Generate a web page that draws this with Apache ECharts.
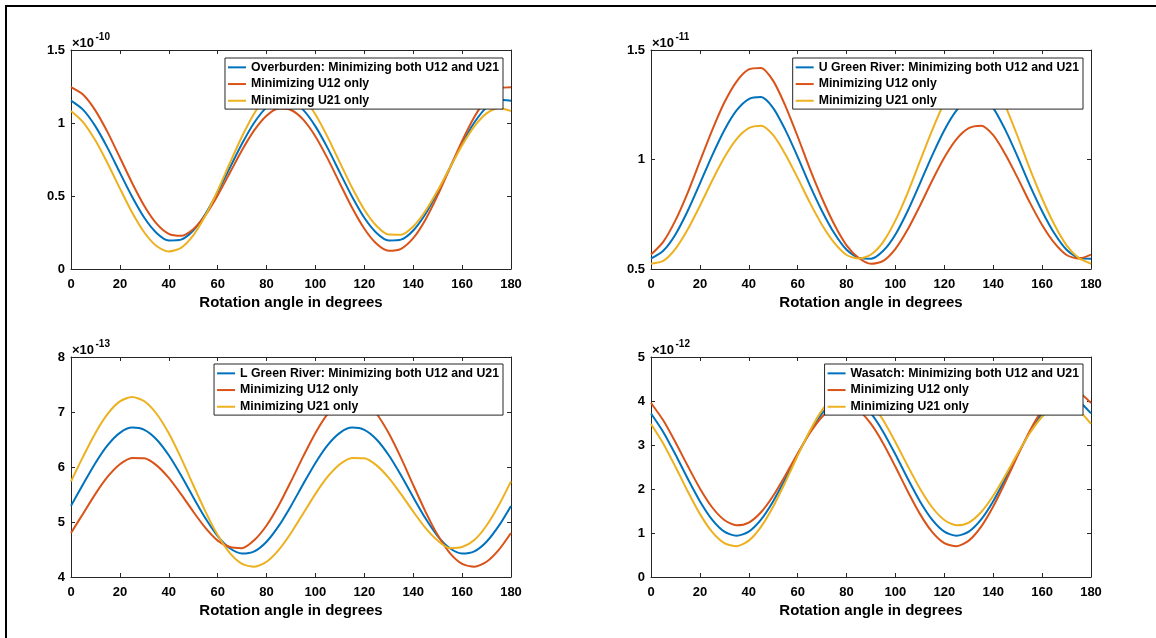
<!DOCTYPE html>
<html>
<head>
<meta charset="utf-8">
<script src="https://cdn.jsdelivr.net/npm/echarts@6/dist/echarts.min.js"></script>
<style>
html,body{margin:0;padding:0;background:#fff;}
#chart{width:1156px;height:638px;}
</style>
</head>
<body>
<div id="chart"></div>
<script>
// Rotation angles (degrees)
const angles = [0,5,10,15,20,25,30,35,40,45,50,55,60,65,70,75,80,85,90,95,100,105,110,115,120,125,130,135,140,145,150,155,160,165,170,175,180];

// Panel 1: Overburden (x1e-10)
const overburdenBoth = [1.153,1.090,0.977,0.828,0.660,0.495,0.351,0.247,0.195,0.201,0.264,0.377,0.527,0.694,0.859,1.003,1.107,1.159,1.153,1.090,0.977,0.828,0.660,0.495,0.351,0.247,0.195,0.201,0.264,0.377,0.527,0.694,0.859,1.003,1.107,1.159,1.153];
const overburdenU12 = [1.245,1.193,1.085,0.936,0.764,0.589,0.432,0.311,0.241,0.228,0.273,0.369,0.504,0.659,0.815,0.951,1.050,1.099,1.089,1.023,0.908,0.756,0.586,0.419,0.276,0.173,0.125,0.138,0.211,0.338,0.504,0.691,0.877,1.041,1.166,1.236,1.245];
const overburdenU21 = [1.082,1.005,0.880,0.723,0.552,0.387,0.250,0.157,0.120,0.145,0.230,0.366,0.537,0.726,0.909,1.067,1.182,1.241,1.238,1.174,1.058,0.903,0.729,0.556,0.406,0.295,0.236,0.235,0.291,0.397,0.537,0.694,0.848,0.977,1.066,1.103,1.082];

// Panel 2: U Green River (x1e-11)
const uGreenBoth = [0.547,0.583,0.658,0.765,0.890,1.018,1.134,1.224,1.276,1.285,1.235,1.134,1.012,0.882,0.764,0.663,0.588,0.551,0.547,0.583,0.658,0.765,0.890,1.018,1.134,1.224,1.276,1.285,1.235,1.134,1.012,0.882,0.764,0.663,0.588,0.551,0.547];
const uGreenU12 = [0.566,0.624,0.722,0.848,0.991,1.133,1.260,1.356,1.411,1.418,1.359,1.244,1.105,0.957,0.822,0.703,0.608,0.550,0.524,0.537,0.592,0.680,0.788,0.903,1.009,1.093,1.143,1.154,1.111,1.023,0.916,0.803,0.701,0.619,0.564,0.548,0.566];
const uGreenU21 = [0.524,0.537,0.592,0.680,0.788,0.903,1.009,1.093,1.143,1.154,1.111,1.023,0.916,0.803,0.701,0.619,0.564,0.548,0.566,0.624,0.722,0.848,0.991,1.133,1.260,1.356,1.411,1.418,1.359,1.244,1.105,0.957,0.822,0.703,0.608,0.550,0.524];

// Panel 3: L Green River (x1e-13)
const lGreenBoth = [5.293,5.691,6.074,6.397,6.620,6.716,6.675,6.500,6.213,5.849,5.451,5.068,4.745,4.522,4.426,4.467,4.642,4.929,5.293,5.691,6.074,6.397,6.620,6.716,6.675,6.500,6.213,5.849,5.451,5.068,4.745,4.522,4.426,4.467,4.642,4.929,5.293];
const lGreenU12 = [4.801,5.156,5.512,5.823,6.050,6.165,6.158,6.030,5.802,5.507,5.189,4.893,4.662,4.545,4.525,4.671,4.936,5.304,5.739,6.194,6.620,6.965,7.192,7.273,7.196,6.968,6.612,6.165,5.673,5.189,4.762,4.435,4.239,4.187,4.278,4.494,4.801];
const lGreenU21 = [5.739,6.194,6.620,6.965,7.192,7.273,7.196,6.968,6.612,6.165,5.673,5.189,4.762,4.435,4.239,4.187,4.278,4.494,4.801,5.156,5.512,5.823,6.050,6.165,6.158,6.030,5.802,5.507,5.189,4.893,4.662,4.525,4.545,4.671,4.936,5.304,5.739];

// Panel 4: Wasatch (x1e-12)
const wasatchBoth = [3.717,3.298,2.784,2.238,1.724,1.305,1.032,0.937,1.032,1.305,1.724,2.238,2.784,3.298,3.717,3.990,4.085,3.990,3.717,3.298,2.784,2.238,1.724,1.305,1.032,0.937,1.032,1.305,1.724,2.238,2.784,3.298,3.717,3.990,4.085,3.990,3.717];
const wasatchU12 = [3.955,3.561,3.064,2.527,2.013,1.585,1.295,1.175,1.237,1.471,1.847,2.313,2.809,3.273,3.642,3.867,3.919,3.785,3.479,3.035,2.504,1.949,1.435,1.025,0.769,0.699,0.827,1.139,1.601,2.163,2.759,3.323,3.792,4.113,4.251,4.195,3.955];
const wasatchU21 = [3.479,3.035,2.504,1.949,1.435,1.025,0.769,0.699,0.827,1.139,1.601,2.163,2.759,3.323,3.792,4.113,4.251,4.195,3.955,3.561,3.064,2.527,2.013,1.585,1.295,1.175,1.237,1.471,1.847,2.313,2.809,3.273,3.642,3.867,3.919,3.785,3.479];

// Axis settings per panel
const yMins = [0, 0.5, 4, 0];
const yMaxs = [1.5, 1.5, 8, 5];
const yIntervals = [0.5, 0.5, 1, 1];
const exponents = ['-10', '-11', '-13', '-12'];
const bothLabels = ['Overburden: Minimizing both U12 and U21', 'U Green River: Minimizing both U12 and U21', 'L Green River: Minimizing both U12 and U21', 'Wasatch: Minimizing both U12 and U21'];
const u12Label = 'Minimizing U12 only';
const u21Label = 'Minimizing U21 only';
const xTitle = 'Rotation angle in degrees';

const panels = [
  [overburdenBoth, overburdenU12, overburdenU21],
  [uGreenBoth, uGreenU12, uGreenU21],
  [lGreenBoth, lGreenU12, lGreenU21],
  [wasatchBoth, wasatchU12, wasatchU21]
];

const FONT = 'Liberation Sans, Arial, Helvetica, sans-serif';
const AX = '#262626';
const colors = ['#0072BD', '#D95319', '#EDB120'];

const gridPos = [
  {left: 71, top: 50, width: 440, height: 219},
  {left: 651, top: 50, width: 440, height: 219},
  {left: 71, top: 357, width: 440, height: 220},
  {left: 651, top: 357, width: 440, height: 220}
];
const legendPos = [
  {right: 653, top: 58},
  {right: 73, top: 58},
  {right: 653, top: 364},
  {right: 73, top: 364}
];

const grid = [], xAxis = [], yAxis = [], series = [], legend = [], graphic = [];

graphic.push({type: 'rect', z: -10, shape: {x: 6, y: 6, width: 1200, height: 700}, style: {fill: 'none', stroke: '#000', lineWidth: 2}});

panels.forEach(function (p, i) {
  grid.push(Object.assign({containLabel: false}, gridPos[i]));
  const xBase = {
    type: 'value', gridIndex: i, min: 0, max: 180, interval: 20,
    axisLine: {show: true, onZero: false, lineStyle: {color: AX, width: 1}},
    axisTick: {show: true, inside: true, length: 4, lineStyle: {color: AX}},
    splitLine: {show: false}
  };
  xAxis.push(Object.assign({}, xBase, {
    position: 'bottom',
    axisLabel: {show: true, margin: 9, color: '#000', fontFamily: FONT, fontWeight: 'bold', fontSize: 13},
    name: xTitle, nameLocation: 'middle', nameGap: 26,
    nameTextStyle: {color: '#000', fontFamily: FONT, fontWeight: 'bold', fontSize: 15}
  }));
  xAxis.push(Object.assign({}, xBase, {position: 'top', axisLabel: {show: false}}));
  const yBase = {
    type: 'value', gridIndex: i, min: yMins[i], max: yMaxs[i], interval: yIntervals[i],
    axisLine: {show: true, onZero: false, lineStyle: {color: AX, width: 1}},
    axisTick: {show: true, inside: true, length: 4, lineStyle: {color: AX}},
    splitLine: {show: false}
  };
  yAxis.push(Object.assign({}, yBase, {
    position: 'left',
    axisLabel: {show: true, margin: 6, color: '#000', fontFamily: FONT, fontWeight: 'bold', fontSize: 13}
  }));
  yAxis.push(Object.assign({}, yBase, {position: 'right', axisLabel: {show: false}}));

  const names = [bothLabels[i], u12Label, u21Label];
  p.forEach(function (vals, j) {
    series.push({
      type: 'line', name: names[j], xAxisIndex: 2 * i, yAxisIndex: 2 * i,
      data: angles.map(function (a, k) { return [a, vals[k]]; }),
      showSymbol: false, symbol: 'none', smooth: 0.25,
      lineStyle: {color: colors[j], width: 2}, itemStyle: {color: colors[j]},
      z: 2
    });
  });

  legend.push(Object.assign({
    orient: 'vertical', data: names, selectedMode: false,
    icon: 'rect', itemWidth: 18, itemHeight: 2, itemGap: 0,
    padding: [1, 4, 0, 3],
    backgroundColor: '#fff', borderColor: AX, borderWidth: 1,
    textStyle: {color: '#000', fontFamily: FONT, fontWeight: 'bold', fontSize: 12.3, lineHeight: 16.7},
    z: 10
  }, legendPos[i]));

  const gp = gridPos[i];
  graphic.push({type: 'text', z: 20, x: gp.left + 1, y: gp.top - 7,
    style: {text: '\u00d710', font: 'bold 13px ' + FONT, fill: '#000', textAlign: 'left', textVerticalAlign: 'middle'}});
  graphic.push({type: 'text', z: 20, x: gp.left + 24.5, y: gp.top - 13,
    style: {text: exponents[i], font: 'bold 10px ' + FONT, fill: '#000', textAlign: 'left', textVerticalAlign: 'middle'}});
});

const chart = echarts.init(document.getElementById('chart'), null, {renderer: 'canvas'});
chart.setOption({
  backgroundColor: '#fff',
  animation: false,
  grid: grid, xAxis: xAxis, yAxis: yAxis, series: series, legend: legend, graphic: graphic
});
</script>
</body>
</html>
